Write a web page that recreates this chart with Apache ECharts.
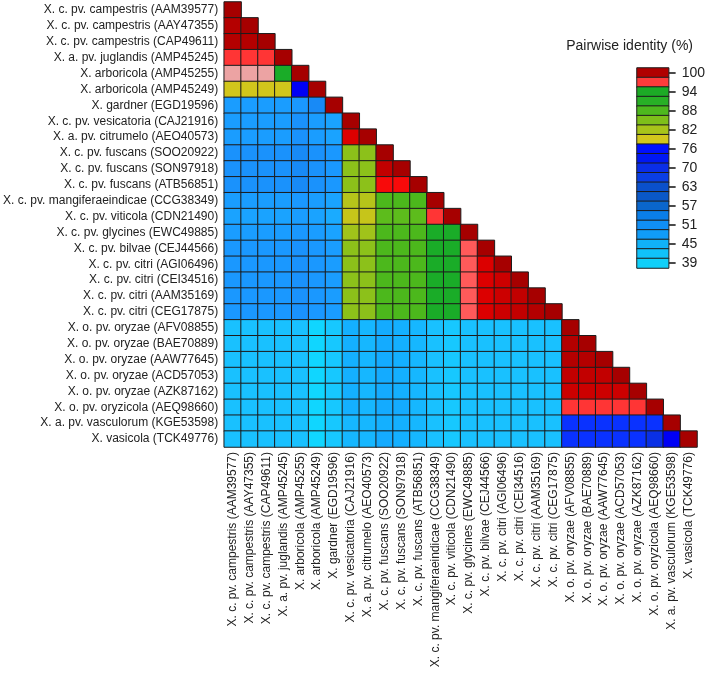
<!DOCTYPE html>
<html>
<head>
<meta charset="utf-8">
<title>Pairwise identity</title>
<script src="https://cdn.jsdelivr.net/npm/echarts/dist/echarts.min.js"></script>
<style>
	html, body { margin: 0; padding: 0; background: #fff; }
	#main { width: 708px; height: 680px; }
</style>
</head>
<body>
<div id="main"></div>
<script>
/**
 * 数据
 */
// 菌株名称（行、列共用）
var strains = [
	'X. c. pv. campestris (AAM39577)',
	'X. c. pv. campestris (AAY47355)',
	'X. c. pv. campestris (CAP49611)',
	'X. a. pv. juglandis (AMP45245)',
	'X. arboricola (AMP45255)',
	'X. arboricola (AMP45249)',
	'X. gardner (EGD19596)',
	'X. c. pv. vesicatoria (CAJ21916)',
	'X. a. pv. citrumelo (AEO40573)',
	'X. c. pv. fuscans (SOO20922)',
	'X. c. pv. fuscans (SON97918)',
	'X. c. pv. fuscans (ATB56851)',
	'X. c. pv. mangiferaeindicae (CCG38349)',
	'X. c. pv. viticola (CDN21490)',
	'X. c. pv. glycines (EWC49885)',
	'X. c. pv. bilvae (CEJ44566)',
	'X. c. pv. citri (AGI06496)',
	'X. c. pv. citri (CEI34516)',
	'X. c. pv. citri (AAM35169)',
	'X. c. pv. citri (CEG17875)',
	'X. o. pv. oryzae (AFV08855)',
	'X. o. pv. oryzae (BAE70889)',
	'X. o. pv. oryzae (AAW77645)',
	'X. o. pv. oryzae (ACD57053)',
	'X. o. pv. oryzae (AZK87162)',
	'X. o. pv. oryzicola (AEQ98660)',
	'X. a. pv. vasculorum (KGE53598)',
	'X. vasicola (TCK49776)'
];

// 两两一致性 (%)，下三角，每行到对角线为止
var identity = [
	[100],
	[99.2, 100],
	[99.2, 99.3, 100],
	[96.3, 96.3, 96.3, 100],
	[95.0, 95.0, 95.0, 93.4, 100],
	[78.5, 78.5, 78.5, 78.6, 75.5, 100],
	[50.5, 50.5, 50.5, 50.6, 51.3, 52.4, 100],
	[50.5, 50.4, 50.5, 50.6, 51.5, 50.5, 49.8, 100],
	[50.6, 50.5, 50.6, 50.7, 51.6, 50.6, 49.8, 97.6, 100],
	[51.8, 51.8, 51.8, 51.9, 52.5, 51.8, 51.0, 84.6, 84.5, 100],
	[51.9, 51.8, 51.9, 52.0, 52.6, 51.9, 51.1, 84.6, 84.6, 98.6, 100],
	[51.8, 51.8, 51.8, 51.9, 52.5, 51.8, 51.0, 84.5, 84.5, 96.9, 96.9, 100],
	[50.4, 50.4, 50.4, 50.5, 51.2, 50.4, 49.5, 81.0, 81.0, 88.6, 88.6, 88.6, 100],
	[49.4, 49.4, 49.4, 49.5, 50.4, 49.4, 48.5, 79.5, 79.5, 87.2, 87.2, 87.2, 96.2, 100],
	[50.5, 50.5, 50.5, 50.6, 51.2, 50.5, 49.5, 83.0, 83.0, 88.6, 88.6, 88.6, 93.4, 93.4, 100],
	[51.0, 51.0, 51.0, 51.1, 51.6, 51.0, 50.0, 84.3, 84.3, 88.7, 88.7, 88.7, 93.5, 93.5, 95.7, 100],
	[51.0, 51.0, 51.0, 51.1, 51.6, 51.0, 50.0, 84.3, 84.3, 88.7, 88.7, 88.7, 93.5, 93.5, 95.7, 97.6, 100],
	[51.0, 51.0, 51.0, 51.1, 51.6, 51.0, 50.1, 84.3, 84.3, 88.7, 88.7, 88.7, 93.5, 93.5, 95.7, 97.6, 98.2, 100],
	[51.1, 51.0, 51.1, 51.2, 51.6, 51.0, 50.1, 84.3, 84.3, 88.7, 88.7, 88.7, 93.5, 93.5, 95.7, 97.6, 98.2, 98.6, 100],
	[51.0, 51.0, 51.0, 51.1, 51.6, 51.0, 50.0, 84.2, 84.2, 88.7, 88.7, 88.7, 93.5, 93.5, 95.7, 97.6, 98.2, 98.6, 99.0, 100],
	[43.5, 43.5, 43.5, 43.6, 43.4, 40.6, 42.6, 45.6, 45.2, 46.4, 46.0, 45.1, 43.5, 42.7, 43.5, 43.4, 43.5, 43.6, 43.5, 43.4, 100],
	[43.5, 43.6, 43.5, 43.6, 43.4, 40.6, 42.6, 45.6, 45.2, 46.4, 46.0, 45.1, 43.5, 42.7, 43.5, 43.4, 43.5, 43.6, 43.5, 43.4, 99.2, 100],
	[43.6, 43.5, 43.5, 43.7, 43.4, 40.7, 42.6, 45.6, 45.3, 46.4, 46.0, 45.1, 43.5, 42.7, 43.5, 43.4, 43.6, 43.6, 43.5, 43.4, 99.0, 99.1, 100],
	[43.5, 43.5, 43.5, 43.6, 43.4, 40.6, 42.6, 45.6, 45.2, 46.4, 46.0, 45.1, 43.5, 42.7, 43.5, 43.4, 43.5, 43.6, 43.5, 43.4, 98.5, 98.5, 98.5, 100],
	[43.4, 43.5, 43.4, 43.6, 43.3, 40.6, 42.5, 45.6, 45.2, 46.3, 46.0, 45.0, 43.5, 42.7, 43.5, 43.4, 43.5, 43.6, 43.5, 43.4, 98.3, 98.3, 98.3, 98.3, 100],
	[43.8, 43.8, 43.8, 43.9, 43.6, 40.9, 42.8, 45.8, 45.4, 46.6, 46.2, 45.3, 43.8, 42.9, 43.7, 43.6, 43.7, 43.8, 43.7, 43.6, 96.3, 96.3, 96.3, 96.3, 96.3, 100],
	[43.0, 43.0, 43.0, 43.1, 43.0, 40.2, 42.2, 45.0, 44.9, 46.0, 45.6, 44.9, 43.1, 42.3, 43.1, 43.0, 43.1, 43.2, 43.1, 43.0, 72.0, 72.0, 72.0, 72.0, 72.0, 72.0, 100],
	[43.2, 43.2, 43.2, 43.3, 43.1, 40.4, 42.4, 45.2, 45.0, 46.2, 45.8, 45.0, 43.3, 42.5, 43.3, 43.2, 43.3, 43.4, 43.3, 43.2, 72.0, 72.0, 72.0, 72.0, 72.0, 70.5, 75.5, 100]
];

// 色标的刻度标签（自上而下）
var tickLabels = ['100', '94', '88', '82', '76', '70', '63', '57', '51', '45', '39'];

// 色标色块（自上而下，每两个色块一个刻度）
var legendColors = [
	'#b00000', '#ff3b3b', '#1cab26', '#28b026', '#4eb81e', '#7ebf1a', '#a8c41a',
	'#d2c71c', '#0010ff', '#0018f4', '#0a2ee8', '#0a3ee4', '#0a50cc', '#0a58c8',
	'#0a66cc', '#0a7ee8', '#108ef4', '#109cf8', '#10b2f8', '#10c2fa', '#10d0fa'
];

/**
 * 绘制热图
 */
function plotHeatmap() {
	var myChart = echarts.init(document.getElementById('main'));
	var font = '"Liberation Sans", Arial, sans-serif';

	// 下三角单元格
	var cells = [];
	for (var r = 0; r < identity.length; r++) {
		for (var c = 0; c < identity[r].length; c++) {
			cells.push([c, r, identity[r][c]]);
		}
	}

	// 色标：刻度标签放在偶数位置的色块上
	var legendCats = [];
	var legendCells = [];
	for (var i = 0; i < legendColors.length; i++) {
		legendCats.push(i % 2 === 0 ? tickLabels[i / 2] : '');
		legendCells.push({
			value : [0, i, i],
			itemStyle : { color : legendColors[i] }
		});
	}

	var option = {
		animation : false,
		backgroundColor : '#ffffff',
		title : {
			text : 'Pairwise identity (%)',
			right : 10,
			top : 34,
			textStyle : {
				fontFamily : font,
				fontSize : 14,
				fontWeight : 'normal',
				color : '#222'
			}
		},
		grid : [ {
			left : 221,
			top : 2,
			width : 476,
			height : 445
		}, {
			left : 637,
			top : 68,
			width : 32,
			height : 200
		} ],
		xAxis : [ {
			type : 'category',
			data : strains,
			gridIndex : 0,
			position : 'bottom',
			axisLine : { show : false },
			axisTick : { show : false },
			splitLine : { show : false },
			axisLabel : {
				rotate : 90,
				interval : 0,
				margin : 5,
				fontFamily : font,
				fontSize : 12,
				color : '#222'
			}
		}, {
			type : 'category',
			data : [ '' ],
			gridIndex : 1,
			show : false
		} ],
		yAxis : [ {
			type : 'category',
			data : strains,
			gridIndex : 0,
			inverse : true,
			axisLine : { show : false },
			axisTick : { show : false },
			splitLine : { show : false },
			axisLabel : {
				interval : 0,
				margin : 6,
				fontFamily : font,
				fontSize : 12,
				color : '#222'
			}
		}, {
			type : 'category',
			data : legendCats,
			gridIndex : 1,
			inverse : true,
			position : 'right',
			axisLine : { show : false },
			axisTick : {
				show : true,
				alignWithLabel : true,
				interval : 1,
				length : 7,
				lineStyle : { color : '#111', width : 1.5 }
			},
			axisLabel : {
				interval : 1,
				margin : 13,
				fontFamily : font,
				fontSize : 14,
				color : '#222'
			}
		} ],
		visualMap : {
			type : 'piecewise',
			show : false,
			seriesIndex : 0,
			dimension : 2,
			pieces : [
				{ gte : 99.5, color : '#a60000' },
				{ gte : 98.8, lt : 99.5, color : '#b40000' },
				{ gte : 98.4, lt : 98.8, color : '#c20000' },
				{ gte : 98.0, lt : 98.4, color : '#cc0000' },
				{ gte : 97.3, lt : 98.0, color : '#dc0000' },
				{ gte : 96.6, lt : 97.3, color : '#f80a0a' },
				{ gte : 96.0, lt : 96.6, color : '#ff3535' },
				{ gte : 95.4, lt : 96.0, color : '#ff5a5a' },
				{ gte : 94.5, lt : 95.4, color : '#eca3a3' },
				{ gte : 92.4, lt : 94.5, color : '#1aac28' },
				{ gte : 89.5, lt : 92.4, color : '#2cb020' },
				{ gte : 88.0, lt : 89.5, color : '#4cb81c' },
				{ gte : 86.5, lt : 88.0, color : '#5dbc1c' },
				{ gte : 84.0, lt : 86.5, color : '#8cc11a' },
				{ gte : 82.0, lt : 84.0, color : '#a0c31a' },
				{ gte : 80.0, lt : 82.0, color : '#b6c41a' },
				{ gte : 79.0, lt : 80.0, color : '#c6c51a' },
				{ gte : 77.0, lt : 79.0, color : '#d2c61c' },
				{ gte : 74.0, lt : 77.0, color : '#0000f5' },
				{ gte : 71.0, lt : 74.0, color : '#0a32ff' },
				{ gte : 68.0, lt : 71.0, color : '#0a30e6' },
				{ gte : 53.0, lt : 68.0, color : '#0a70e0' },
				{ gte : 52.2, lt : 53.0, color : '#188af6' },
				{ gte : 51.4, lt : 52.2, color : '#1a92fc' },
				{ gte : 50.8, lt : 51.4, color : '#1a98ff' },
				{ gte : 50.0, lt : 50.8, color : '#1a9dff' },
				{ gte : 49.0, lt : 50.0, color : '#1aa3ff' },
				{ gte : 47.5, lt : 49.0, color : '#1aabff' },
				{ gte : 46.2, lt : 47.5, color : '#14abff' },
				{ gte : 45.5, lt : 46.2, color : '#14b0ff' },
				{ gte : 44.8, lt : 45.5, color : '#16b7ff' },
				{ gte : 43.0, lt : 44.8, color : '#19c1ff' },
				{ gte : 42.0, lt : 43.0, color : '#17c8ff' },
				{ lt : 42.0, color : '#10d6ff' }
			]
		},
		series : [ {
			name : 'identity',
			type : 'heatmap',
			xAxisIndex : 0,
			yAxisIndex : 0,
			data : cells,
			itemStyle : {
				borderColor : '#1c1c1c',
				borderWidth : 1
			},
			emphasis : { disabled : true }
		}, {
			name : 'colorbar',
			type : 'heatmap',
			xAxisIndex : 1,
			yAxisIndex : 1,
			data : legendCells,
			itemStyle : {
				borderColor : '#1c1c1c',
				borderWidth : 1
			},
			emphasis : { disabled : true }
		} ]
	};
	myChart.setOption(option);
}

plotHeatmap();
</script>
</body>
</html>
